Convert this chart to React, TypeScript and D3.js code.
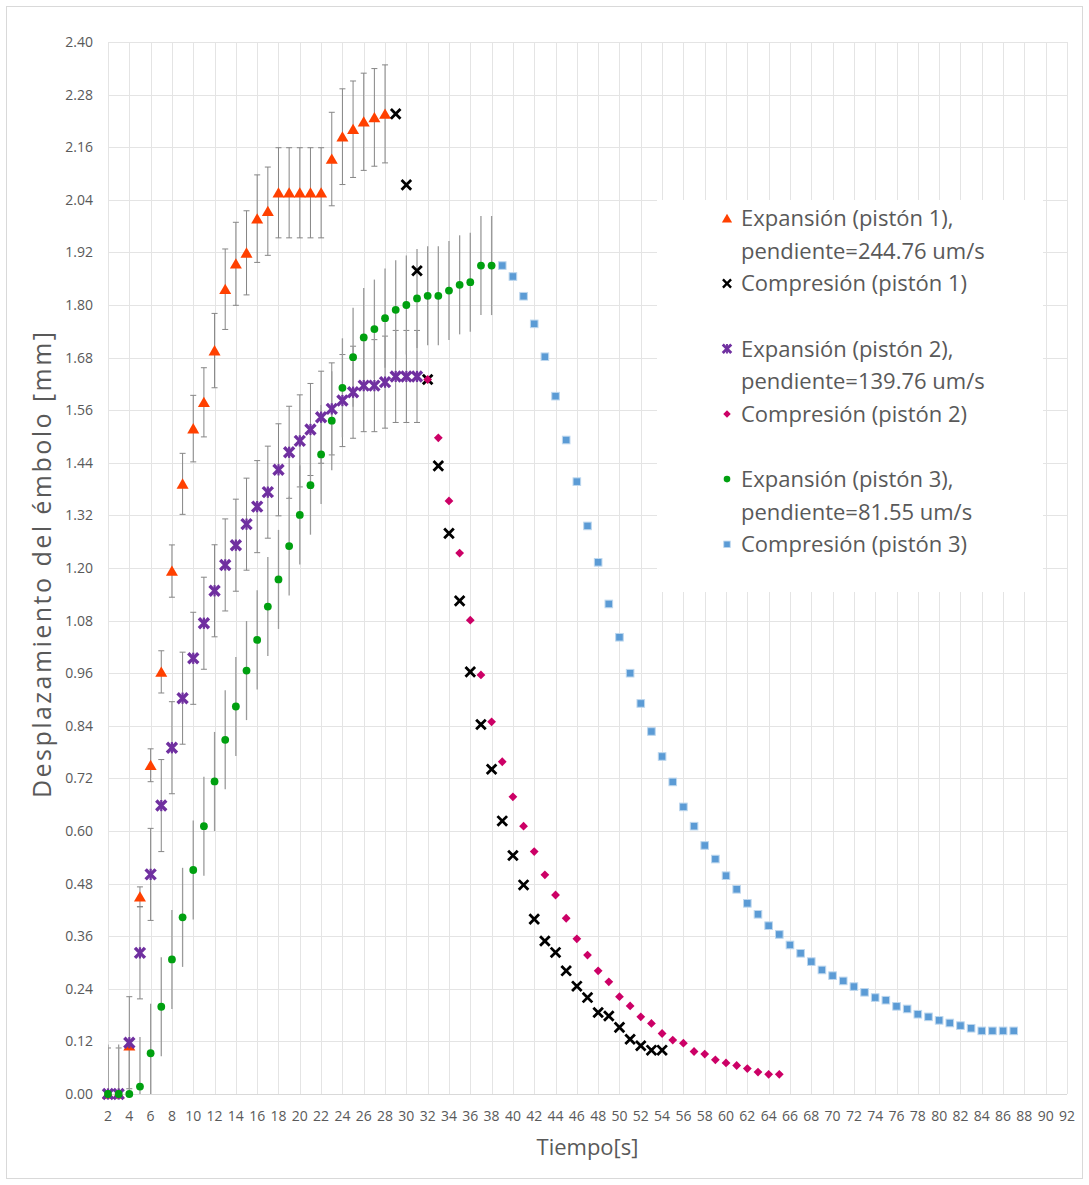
import React, { useEffect } from 'react';
import * as d3 from 'd3';

// ---------- data ----------
const xTickLabels = [2, 4, 6, 8, 10, 12, 14, 16, 18, 20, 22, 24, 26, 28, 30, 32, 34, 36, 38, 40, 42, 44, 46, 48, 50, 52, 54, 56, 58, 60, 62, 64, 66, 68, 70, 72, 74, 76, 78, 80, 82, 84, 86, 88, 90, 92];
const yTickLabels = ['0.00', '0.12', '0.24', '0.36', '0.48', '0.60', '0.72', '0.84', '0.96', '1.08', '1.20', '1.32', '1.44', '1.56', '1.68', '1.80', '1.92', '2.04', '2.16', '2.28', '2.40'];

// Expansión (pistón 1): t = 2..28
const exp1Start = 2;
const exp1Values = [0, 0, 0.11, 0.45, 0.75, 0.963, 1.193, 1.392, 1.518, 1.578, 1.696, 1.836, 1.894, 1.919, 1.997, 2.014, 2.056, 2.056, 2.056, 2.056, 2.056, 2.133, 2.184, 2.201, 2.218, 2.228, 2.236];
const exp1ErrorPercent = 5; // percentage error bars

// Compresión (pistón 1): t = 29..54
const comp1Start = 29;
const comp1Values = [2.236, 2.074, 1.878, 1.63, 1.433, 1.279, 1.125, 0.963, 0.843, 0.741, 0.623, 0.544, 0.477, 0.399, 0.349, 0.323, 0.281, 0.246, 0.22, 0.186, 0.178, 0.152, 0.125, 0.11, 0.1, 0.1];

// Expansión (pistón 2): t = 2..31
const exp2Start = 2;
const exp2Values = [0, 0, 0.117, 0.322, 0.501, 0.658, 0.79, 0.903, 0.994, 1.074, 1.148, 1.207, 1.252, 1.3, 1.34, 1.373, 1.424, 1.464, 1.49, 1.516, 1.544, 1.563, 1.582, 1.601, 1.616, 1.616, 1.624, 1.637, 1.637, 1.637];
const exp2ErrorFixed = 0.105;

// Compresión (pistón 2): t = 32..65
const comp2Start = 32;
const comp2Values = [1.63, 1.497, 1.353, 1.234, 1.081, 0.956, 0.849, 0.758, 0.678, 0.611, 0.553, 0.5, 0.454, 0.401, 0.354, 0.317, 0.281, 0.256, 0.222, 0.201, 0.176, 0.161, 0.138, 0.123, 0.116, 0.097, 0.091, 0.078, 0.071, 0.065, 0.058, 0.05, 0.045, 0.045];

// Expansión (pistón 3): t = 2..38
const exp3Start = 2;
const exp3Values = [0, 0, 0, 0.017, 0.093, 0.199, 0.307, 0.403, 0.511, 0.611, 0.713, 0.808, 0.884, 0.966, 1.036, 1.112, 1.174, 1.25, 1.321, 1.389, 1.459, 1.536, 1.611, 1.681, 1.726, 1.745, 1.77, 1.789, 1.8, 1.815, 1.821, 1.821, 1.833, 1.846, 1.852, 1.89, 1.89];
const exp3ErrorFixed = 0.113;

// Compresión (pistón 3): t = 39..87
const comp3Start = 39;
const comp3Values = [1.89, 1.865, 1.82, 1.757, 1.682, 1.592, 1.492, 1.397, 1.296, 1.213, 1.118, 1.042, 0.96, 0.891, 0.827, 0.77, 0.712, 0.655, 0.611, 0.567, 0.536, 0.498, 0.467, 0.435, 0.41, 0.384, 0.364, 0.34, 0.321, 0.302, 0.283, 0.27, 0.258, 0.245, 0.232, 0.22, 0.214, 0.2, 0.194, 0.182, 0.176, 0.168, 0.162, 0.156, 0.15, 0.144, 0.144, 0.144, 0.144];

const legendLabels = [
  ['Expansión (pistón 1),', 'pendiente=244.76 um/s'],
  ['Compresión (pistón 1)'],
  ['Expansión (pistón 2),', 'pendiente=139.76 um/s'],
  ['Compresión (pistón 2)'],
  ['Expansión (pistón 3),', 'pendiente=81.55 um/s'],
  ['Compresión (pistón 3)'],
];
const xTitle = 'Tiempo[s]';
const yTitle = 'Desplazamiento del émbolo [mm]';

// ---------- layout ----------
const W = 1089, H = 1185;
const PL = 108, PR = 1067, PT = 42, PB = 1094;
const FONT = "'Open Sans', sans-serif";
const TXT = '#595959';
const GRID = '#e4e4e4';

const x = d3.scaleLinear().domain([2, 92]).range([PL, PR]);
const y = d3.scaleLinear().domain([0, 2.4]).range([PB, PT]);

type MarkerKind = 'tri' | 'x' | 'star' | 'diamond' | 'circle' | 'square';
const COLORS: Record<MarkerKind, string> = {
  tri: '#FF4000',
  x: '#000000',
  star: '#7030A0',
  diamond: '#CC0066',
  circle: '#00A010',
  square: '#5B9BD5',
};

function Marker({ kind, cx, cy, s = 1 }: { kind: MarkerKind; cx: number; cy: number; s?: number }) {
  const c = COLORS[kind];
  const t = `translate(${cx},${cy}) scale(${s})`;
  switch (kind) {
    case 'tri':
      return <path transform={t} d="M0,-5.5L6,4.8L-6,4.8Z" fill={c} />;
    case 'x':
      return <path transform={t} d="M-4.8,-4.8L4.8,4.8M-4.8,4.8L4.8,-4.8" stroke={c} strokeWidth={2.8} fill="none" />;
    case 'star':
      return (
        <g transform={t}>
          <path d="M-5,-5L5,5M-5,5L5,-5" stroke={c} strokeWidth={3.4} fill="none" />
          <path d="M0,-5.6L0,5.6" stroke={c} strokeWidth={2.2} fill="none" />
        </g>
      );
    case 'diamond':
      return <path transform={t} d="M0,-4.4L4.4,0L0,4.4L-4.4,0Z" fill={c} />;
    case 'circle':
      return <circle transform={t} r={3.9} fill={c} />;
    case 'square':
      return <rect transform={t} x={-3.8} y={-3.8} width={7.6} height={7.6} fill={c} stroke="#BDD7EE" strokeWidth={1} />;
  }
  return null;
}

function pts(start: number, vals: number[]) {
  return vals.map((v, i) => ({ t: start + i, v }));
}

export default function App() {
  useEffect(() => {
    document.body.style.margin = '0';
  }, []);

  const exp1 = pts(exp1Start, exp1Values);
  const comp1 = pts(comp1Start, comp1Values);
  const exp2 = pts(exp2Start, exp2Values);
  const comp2 = pts(comp2Start, comp2Values);
  const exp3 = pts(exp3Start, exp3Values);
  const comp3 = pts(comp3Start, comp3Values);

  const series: { data: { t: number; v: number }[]; kind: MarkerKind }[] = [
    { data: exp1, kind: 'tri' },
    { data: comp1, kind: 'x' },
    { data: exp2, kind: 'star' },
    { data: comp2, kind: 'diamond' },
    { data: exp3, kind: 'circle' },
    { data: comp3, kind: 'square' },
  ];

  const errBars = (data: { t: number; v: number }[], err: (v: number) => number, cap: boolean, color: string, sw: number, key: string) =>
    data.map((d, i) => {
      const e = err(d.v);
      if (e <= 0) return null;
      const xx = x(d.t);
      const y1 = y(d.v + e), y0 = y(d.v - e);
      return (
        <g key={key + i} stroke={color} strokeWidth={sw}>
          <line x1={xx} x2={xx} y1={y1} y2={y0} />
          {cap && <line x1={xx - 3} x2={xx + 3} y1={y1} y2={y1} />}
          {cap && <line x1={xx - 3} x2={xx + 3} y1={y0} y2={y0} />}
        </g>
      );
    });

  const legendKinds: MarkerKind[] = ['tri', 'x', 'star', 'diamond', 'circle', 'square'];
  const legendLine = (k: number) => 218.3 + k * 32.6;
  const legendStartLines = [0, 2, 4, 6, 8, 10];

  return (
    <svg width={W} height={H} style={{ display: 'block' }} xmlns="http://www.w3.org/2000/svg">
      <rect x={0} y={0} width={W} height={H} fill="#fff" />
      <rect x={6.5} y={6.5} width={1076} height={1172} fill="#fff" stroke="#d9d9d9" strokeWidth={1} />
      <defs>
        <clipPath id="plotclip">
          <rect x={PL} y={PT} width={PR - PL} height={PB - PT} />
        </clipPath>
      </defs>

      {/* gridlines */}
      <g stroke={GRID} strokeWidth={1}>
        {yTickLabels.map((l) => (
          <line key={'h' + l} x1={PL} x2={PR} y1={Math.round(y(+l)) + 0.5} y2={Math.round(y(+l)) + 0.5} />
        ))}
        {xTickLabels.map((t) => (
          <line key={'v' + t} x1={Math.round(x(t)) + 0.5} x2={Math.round(x(t)) + 0.5} y1={PT} y2={PB} />
        ))}
      </g>
      <line x1={PL} x2={PR} y1={PB + 0.5} y2={PB + 0.5} stroke="#d9d9d9" />

      {/* legend background */}
      <rect x={657} y={200} width={386} height={392} fill="#fff" />

      {/* tick labels */}
      <g fontFamily={FONT} fontSize={14} fill={TXT}>
        {yTickLabels.map((l) => (
          <text key={'yl' + l} x={93} y={y(+l) + 5} textAnchor="end">{l}</text>
        ))}
        {xTickLabels.map((t) => (
          <text key={'xl' + t} x={x(t)} y={1121} textAnchor="middle">{t}</text>
        ))}
      </g>

      {/* axis titles */}
      <text x={(PL + PR) / 2} y={1155} textAnchor="middle" fontFamily={FONT} fontSize={22} fill={TXT}>{xTitle}</text>
      <text transform={`translate(51,565) rotate(-90)`} textAnchor="middle" fontFamily={FONT} fontSize={25}
        textLength={466} lengthAdjust="spacing" fill={TXT}>{yTitle}</text>

      {/* error bars */}
      <g clipPath="url(#plotclip)">
        {errBars(exp1, (v) => (v * exp1ErrorPercent) / 100, true, '#868686', 1, 'e1')}
        {errBars(exp2, () => exp2ErrorFixed, true, '#868686', 1, 'e2')}
        {errBars(exp3, () => exp3ErrorFixed, false, '#9a9a9a', 1.3, 'e3')}
      </g>

      {/* markers */}
      {series.map((s, si) => (
        <g key={'s' + si}>
          {s.data.map((d, i) => (
            <Marker key={i} kind={s.kind} cx={x(d.t)} cy={y(d.v)} />
          ))}
        </g>
      ))}

      {/* legend */}
      <g fontFamily={FONT} fontSize={22} fill={TXT}>
        {legendLabels.map((lines, i) => {
          const k0 = legendStartLines[i];
          return (
            <g key={'lg' + i}>
              <Marker kind={legendKinds[i]} cx={727} cy={legendLine(k0)} s={0.85} />
              {lines.map((ln, j) => (
                <text key={j} x={741} y={legendLine(k0 + j) + 7.8}>{ln}</text>
              ))}
            </g>
          );
        })}
      </g>
    </svg>
  );
}
